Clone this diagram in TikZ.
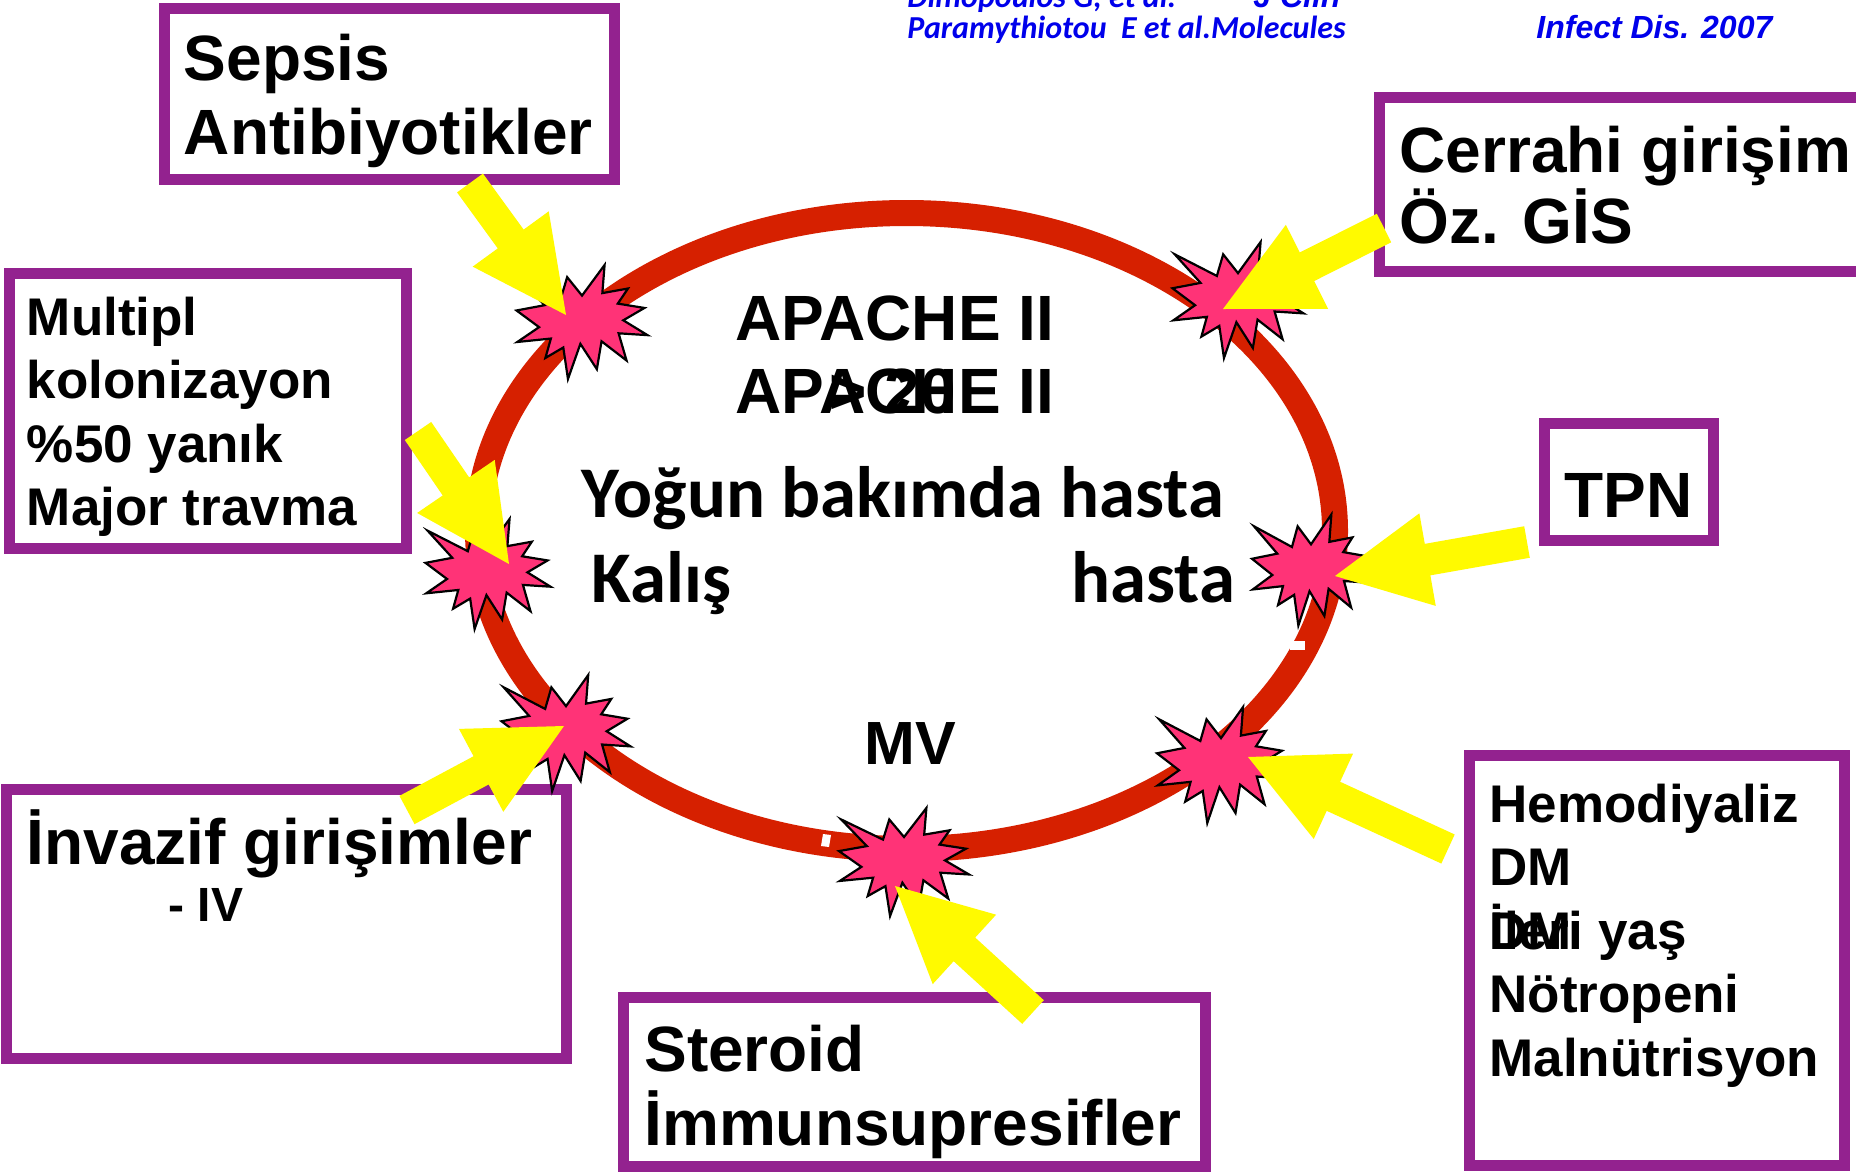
\documentclass[tikz,border=0pt]{standalone}
\usepackage{fontspec}
\setmainfont{Liberation Sans}
\newfontfamily\calib{Carlito}
\usetikzlibrary{calc}
\definecolor{frameviolet}{RGB}{147,34,143}
\definecolor{ringred}{RGB}{214,32,0}
\definecolor{burstpink}{RGB}{255,51,119}
\definecolor{arrowyellow}{RGB}{255,250,0}
\definecolor{citeblue}{RGB}{0,0,235}
\tikzset{
  boxframe/.style={draw=frameviolet, line width=5.5pt, fill=white},
  ringline/.style={draw=ringred, line width=13pt},
  burststyle/.style={fill=burstpink, draw=black, line width=1.1pt},
  arrowfill/.style={fill=arrowyellow},
  txt/.style={inner sep=0pt, anchor=base west},
  tbig/.style={txt, font=\bfseries\fontsize{32}{36}\selectfont},
  tmed/.style={txt, font=\bfseries\fontsize{26.5}{30}\selectfont},
  tiv/.style={txt, font=\bfseries\fontsize{24}{28}\selectfont},
  tmv/.style={txt, font=\bfseries\fontsize{30.5}{34}\selectfont},
  tcal/.style={txt, font=\calib\bfseries\fontsize{36.4}{40}\selectfont},
  tcite/.style={txt, text=citeblue, font=\calib\bfseries\itshape\fontsize{16}{18}\selectfont},
  tcitea/.style={txt, text=citeblue, font=\bfseries\itshape\fontsize{16}{18}\selectfont},
}
% irregular seal (explosion) : name, cx, cy, w, h  (shape in 0..100 box)
\newcommand\burstshape[5]{%
  \coordinate (#1) at (#2,#3);
  \begin{scope}[shift={(#2,#3)}, xscale=#4/100, yscale=#5/100]
    \filldraw[burststyle, shift={(-50,-50)}] (50,26.85) -- (67.23,0) -- (65.53,24.65) -- (85.09,20.63) -- (77.32,33.87)
      -- (97.67,37.67) -- (81.51,48.50) -- (100,61.53) -- (77.95,59.92) -- (84.00,83.77)
      -- (64.91,66.93) -- (61.33,91.38) -- (48.76,69.14) -- (39.28,100) -- (35.72,72.35)
      -- (22.05,81.56) -- (26.24,64.52) -- (0.63,67.53) -- (17.23,54.51) -- (0,39.88)
      -- (21.42,35.26) -- (1.71,10.63) -- (33.85,29.26) -- (38.67,10.63) -- cycle;
  \end{scope}}
% block arrow from tail #1 to tip #2
\newcommand\blockarrow[2]{%
  \fill[arrowfill] (#2) -- ($(#2)!52.55pt!26.57:(#1)$) -- ($(#2)!47.68pt!9.66:(#1)$)
    -- ($(#1)!8pt!-90:(#2)$) -- ($(#1)!8pt!90:(#2)$)
    -- ($(#2)!47.68pt!-9.66:(#1)$) -- ($(#2)!52.55pt!-26.57:(#1)$) -- cycle;}
\begin{document}
\begin{tikzpicture}[x=0.5pt, y=-0.5pt]
\useasboundingbox (0,0) rectangle (1856,1173);
\clip (0,0) rectangle (1856,1173);
\fill[white] (0,0) rectangle (1856,1173);

% boxes
\draw[boxframe] (164.5,8.5) rectangle (614.5,179.5);
\draw[boxframe] (9.5,273.5) rectangle (406.5,548.5);
\draw[boxframe] (1379.5,97.5) rectangle (1870,271.5);
\draw[boxframe] (1544.5,423.5) rectangle (1713.5,540.5);
\draw[boxframe] (1469.5,755.5) rectangle (1844.5,1165.5);
\draw[boxframe] (623.5,997.5) rectangle (1205.5,1166.5);
\draw[boxframe] (6.5,789.5) rectangle (566.5,1058.5);

% ring
\coordinate (ringc) at (906.5,531);
\draw[ringline] (ringc) ellipse [x radius=428.5, y radius=318];
\fill[white] (1290,641) rectangle (1305,650);
\fill[white] (823,834) -- (831,835) -- (829,847) -- (821,846) -- cycle;

% bursts
\burstshape{burstA}{582}{322}{131}{114}
\burstshape{burstB}{1238}{300}{131}{116}
\burstshape{burstC}{488}{574}{125}{110}
\burstshape{burstD}{1311}{570}{118}{111}
\burstshape{burstE}{566}{733}{129}{116}
\burstshape{burstF}{1221}{765}{128}{116}
\burstshape{burstG}{904}{862}{130}{108}

% arrows
\coordinate (a1t) at (470,183);  \coordinate (a1h) at (566,315);
\coordinate (b1t) at (1384,228); \coordinate (b1h) at (1223,309);
\coordinate (c1t) at (418,431);  \coordinate (c1h) at (509,564);
\coordinate (d1t) at (1527,542); \coordinate (d1h) at (1335,576);
\coordinate (e1t) at (407,810);  \coordinate (e1h) at (564,726);
\coordinate (f1t) at (1448,849); \coordinate (f1h) at (1248,757);
\coordinate (g1t) at (1033,1012);\coordinate (g1h) at (895,886);
\blockarrow{a1t}{a1h}
\blockarrow{b1t}{b1h}
\blockarrow{c1t}{c1h}
\blockarrow{d1t}{d1h}
\blockarrow{e1t}{e1h}
\blockarrow{f1t}{f1h}
\blockarrow{g1t}{g1h}

% citation
\node[tcite] (cite1) at (907,7) {Dimopoulos G, et al.};
\node[tcitea] (cite2) at (1253,7) {J Clin};
\node[tcite] (cite3) at (907,38) {Paramythiotou\ \ E et al.Molecules};
\node[tcitea] (cite4) at (1536,38) {Infect Dis. 2007};

% box texts
\node[tbig] (sep1) at (183.5,80.5) {Sepsis};
\node[tbig] (sep2) at (183.5,154) {Antibiyotikler};
\node[tmed] (mul1) at (26.5,335) {Multipl};
\node[tmed] (mul2) at (26.5,398) {kolonizayon};
\node[tmed] (mul3) at (26.5,462) {\%50 yanık};
\node[tmed] (mul4) at (26.5,525.5) {Major travma};
\node[tbig] (cer1) at (1399,172) {Cerrahi girişim};
\node[tbig] (cer2) at (1399,243) {Öz. GİS};
\node[tbig] (tpn) at (1564,517) {TPN};
\node[tmed] (hem1) at (1489,822) {Hemodiyaliz};
\node[tmed] (hem2) at (1489,885) {DM};
\node[tmed] (hem3) at (1489,949) {DM};
\node[tmed] (hem3b) at (1489,949) {İleri yaş};
\node[tmed] (hem4) at (1489,1012) {Nötropeni};
\node[tmed] (hem5) at (1489,1076) {Malnütrisyon};
\node[tbig] (ste1) at (644,1071) {Steroid};
\node[tbig] (ste2) at (644,1145) {İmmunsupresifler};
\node[tbig] (inv1) at (26.5,864) {İnvazif girişimler};
\node[tiv] (inv2) at (168,921) {- IV};

% centre texts
\node[tbig] (ap1) at (735,340) {APACHE II};
\node[tbig] (ap2) at (735,413) {APACHE II};
\node[tbig] (ap3) at (829,413) {> 20};
\node[tcal] (yog) at (581,517) {Yoğun bakımda hasta};
\node[tcal] (kal) at (591,602) {Kalış};
\node[tcal] (has) at (1071,602) {hasta};
\node[tmv] (mv) at (864,764) {MV};
\end{tikzpicture}
\end{document}
